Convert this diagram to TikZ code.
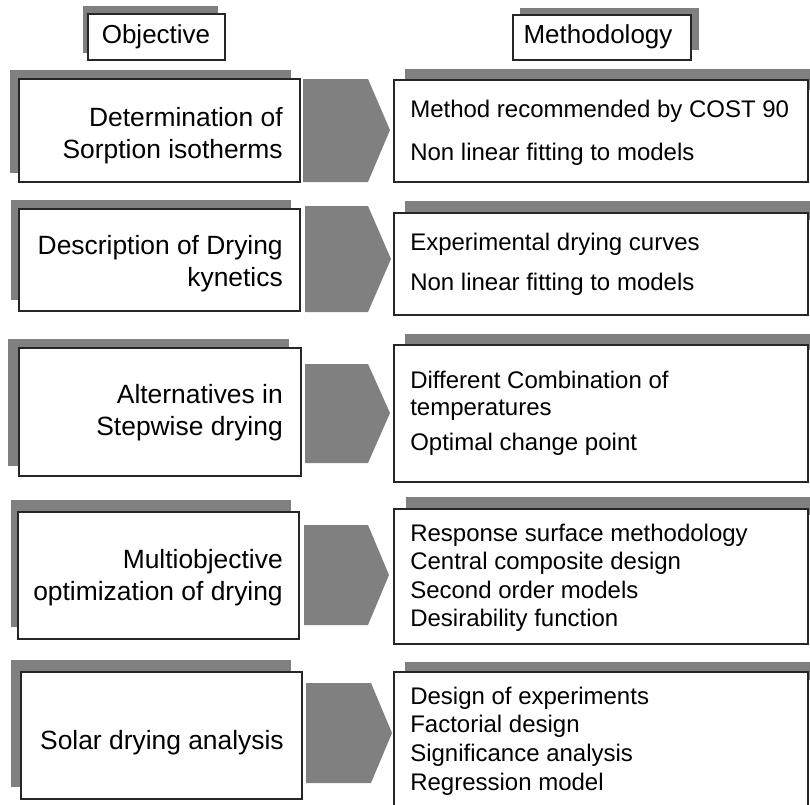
\documentclass[tikz,border=0pt]{standalone}
\usepackage{fontspec}
\setmainfont{Liberation Sans}
\definecolor{backgray}{HTML}{808080}
\begin{document}
\begin{tikzpicture}[x=0.75pt, y=-0.75pt,
        greyback/.style={fill=backgray},
        whitebox/.style={draw=black!85, fill=white, line width=0.8pt},
        headtext/.style={inner sep=0pt, font=\fontsize{19.5}{24}\selectfont},
        objtext/.style={anchor=base east, inner sep=0pt, font=\fontsize{19.8}{24}\selectfont},
        mettext/.style={anchor=base west, inner sep=0pt, font=\fontsize{18}{22}\selectfont}]

        \useasboundingbox (0,0) rectangle (810,804);

        % headers
        \fill[greyback] (83,6) rectangle (218,53);
        \draw[whitebox] (88,14) rectangle (225,60);
        \node[headtext] (objhead) at (156,37) {Objective};

        \fill[greyback] (520,8) rectangle (699,50);
        \draw[whitebox] (513,15) rectangle (691,60);
        \node[headtext] (methead) at (598,37) {Methodology};

        % row 1
        \fill[greyback] (10,70) rectangle (291,173);
        \draw[whitebox] (19,79) rectangle (300,182);
        \node[objtext] (obja1) at (283,126) {Determination of};
        \node[objtext] (obja2) at (283,158) {Sorption isotherms};
        \fill[greyback] (303,79) -- (368,79) -- (390,130) -- (368,182) -- (303,182) -- cycle;
        \fill[greyback] (405,69) rectangle (810,90);
        \draw[whitebox] (394,80) rectangle (808,182);
        \node[mettext] (meta1) at (410,117) {Method recommended by COST 90};
        \node[mettext] (meta2) at (410,160) {Non linear fitting to models};

        % row 2
        \fill[greyback] (11,200) rectangle (291,300);
        \draw[whitebox] (19,209) rectangle (300,311);
        \node[objtext] (objb1) at (283,254) {Description of Drying};
        \node[objtext] (objb2) at (283,286) {kynetics};
        \fill[greyback] (305,206) -- (368,206) -- (391,259) -- (368,312) -- (305,312) -- cycle;
        \fill[greyback] (405,201) rectangle (810,220);
        \draw[whitebox] (394,213) rectangle (808,315);
        \node[mettext] (metb1) at (410,250) {Experimental drying curves};
        \node[mettext] (metb2) at (410,290) {Non linear fitting to models};

        % row 3
        \fill[greyback] (8,339) rectangle (289,466);
        \draw[whitebox] (19,348) rectangle (301,476);
        \node[objtext] (objc1) at (283,403) {Alternatives in};
        \node[objtext] (objc2) at (283,435) {Stepwise drying};
        \fill[greyback] (305,364) -- (368,364) -- (390,413) -- (368,463) -- (305,463) -- cycle;
        \fill[greyback] (405,334) rectangle (810,350);
        \draw[whitebox] (394,345) rectangle (808,482);
        \node[mettext] (metc1) at (410,388) {Different Combination of};
        \node[mettext] (metc2) at (410,415) {temperatures};
        \node[mettext] (metc3) at (410,450) {Optimal change point};

        % row 4
        \fill[greyback] (11,500) rectangle (291,627);
        \draw[whitebox] (18,512) rectangle (299,639);
        \node[objtext] (objd1) at (283,568) {Multiobjective};
        \node[objtext] (objd2) at (283,600) {optimization of drying};
        \fill[greyback] (304,525) -- (368,525) -- (389,575) -- (368,625) -- (304,625) -- cycle;
        \fill[greyback] (406,497) rectangle (810,515);
        \draw[whitebox] (394,509) rectangle (808,644);
        \node[mettext] (metd1) at (410,541) {Response surface methodology};
        \node[mettext] (metd2) at (410,569) {Central composite design};
        \node[mettext] (metd3) at (410,598) {Second order models};
        \node[mettext] (metd4) at (410,626) {Desirability function};

        % row 5
        \fill[greyback] (11,660) rectangle (291,787);
        \draw[whitebox] (21,672) rectangle (302,799);
        \node[objtext] (obje1) at (284,749) {Solar drying analysis};
        \fill[greyback] (306,683) -- (371,683) -- (392,733) -- (371,783) -- (306,783) -- cycle;
        \fill[greyback] (405,662) rectangle (810,680);
        \draw[whitebox] (394,672) rectangle (808,812);
        \node[mettext] (mete1) at (410,704) {Design of experiments};
        \node[mettext] (mete2) at (410,732) {Factorial design};
        \node[mettext] (mete3) at (410,761) {Significance analysis};
        \node[mettext] (mete4) at (410,790) {Regression model};
    \end{tikzpicture}
\end{document}
